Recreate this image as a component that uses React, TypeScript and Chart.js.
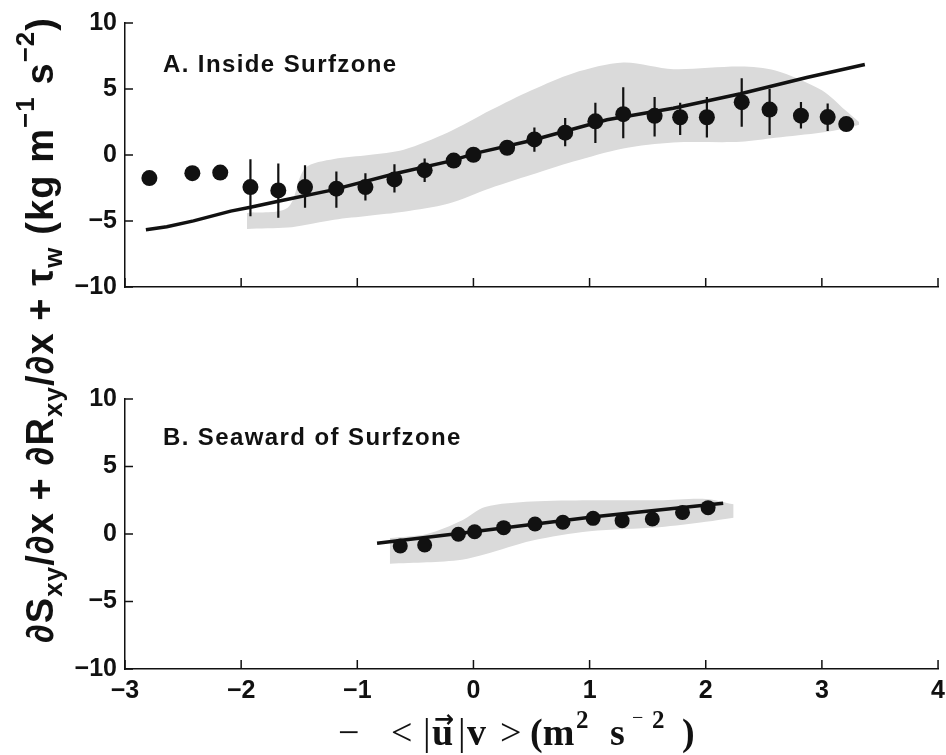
import React, { useEffect, useRef } from 'react';
import { Chart, registerables } from 'chart.js';

Chart.register(...registerables);

// ---- axis ticks ----
const xTicks = [-3, -2, -1, 0, 1, 2, 3, 4];
const yTicks = [-10, -5, 0, 5, 10];

// ---- Panel A: Inside Surfzone ----
const insideX = [-2.79, -2.42, -2.18, -1.92, -1.68, -1.45, -1.18, -0.93, -0.68, -0.42, -0.17, 0.0, 0.29, 0.525, 0.79, 1.05, 1.29, 1.56, 1.78, 2.01, 2.31, 2.55, 2.82, 3.05, 3.21];
const insideY = [-1.75, -1.38, -1.33, -2.43, -2.68, -2.43, -2.55, -2.43, -1.85, -1.15, -0.42, 0.02, 0.55, 1.18, 1.69, 2.55, 3.09, 2.97, 2.86, 2.86, 4.0, 3.44, 2.98, 2.87, 2.34];
const insideHi = [null, null, null, -0.32, -0.64, -0.77, -1.25, -1.38, -0.71, -0.27, null, null, null, 2.08, 2.8, 3.95, 5.13, 4.39, 3.95, 4.39, 5.82, 5.01, 4.02, 3.9, null];
const insideLo = [null, null, null, -4.64, -4.75, -4.0, -4.0, -3.44, -2.85, -2.04, null, null, null, 0.24, 0.66, 0.9, 1.27, 1.4, 1.52, 1.33, 2.14, 1.52, 2.01, 1.81, null];
const fitInX = [-2.82, -2.64, -2.41, -2.09, -1.92, -1.66, -1.23, -0.66, -0.23, 0.06, 0.49, 1.15, 1.72, 2.3, 2.87, 3.37];
const fitInY = [-5.67, -5.43, -4.99, -4.25, -3.96, -3.46, -2.68, -1.38, -0.52, 0.22, 1.08, 2.67, 3.54, 4.64, 5.87, 6.85];
const cloudInX = [-1.95, -1.6, -1.45, -1.2, -0.9, -0.6, -0.22, 0.15, 0.5, 0.86, 1.29, 1.72, 2.3, 2.6, 3.0, 3.2, 3.32];
const cloudInHi = [-4.4, -4.0, -1.0, -0.3, 0.0, 0.4, 1.7, 3.4, 4.9, 6.2, 7.0, 6.5, 6.7, 6.4, 4.9, 3.4, 2.5];
const cloudInLo = [-5.6, -5.5, -5.3, -4.9, -4.6, -4.3, -3.7, -2.5, -1.5, -0.5, 0.5, 0.95, 1.0, 1.3, 1.7, 2.0, 2.3];

// ---- Panel B: Seaward of Surfzone ----
const seawardX = [-0.63, -0.42, -0.13, 0.01, 0.26, 0.53, 0.77, 1.03, 1.28, 1.54, 1.8, 2.02];
const seawardY = [-0.89, -0.81, -0.02, 0.17, 0.47, 0.74, 0.87, 1.16, 0.99, 1.11, 1.6, 1.95];
const fitSeaX = [-0.83, -0.11, 1.04, 2.15];
const fitSeaY = [-0.69, 0.05, 1.28, 2.27];
const cloudSeaX = [-0.72, -0.4, -0.1, 0.1, 0.5, 1.0, 1.6, 2.0, 2.24];
const cloudSeaHi = [-0.3, 0.0, 1.0, 2.0, 2.4, 2.5, 2.5, 2.6, 2.2];
const cloudSeaLo = [-2.2, -2.1, -1.9, -1.5, -0.5, 0.2, 0.5, 0.9, 1.2];

const INK = '#111111';
const CLOUD = '#dadada';
const TICK_FONT = { family: '"Liberation Sans", Arial, sans-serif', size: 25, weight: 'bold' as const };

const fmt = (v: number | string) => {
  const n = Number(v);
  return n < 0 ? '\u2212' + Math.abs(n) : String(n);
};
const pts = (xs: number[], ys: number[]) => xs.map((x, i) => ({ x, y: ys[i] }));
const errPts = (xs: number[], lo: (number | null)[], hi: (number | null)[]) => {
  const out: { x: number; y: number | null }[] = [];
  xs.forEach((x, i) => {
    if (lo[i] == null || hi[i] == null) return;
    out.push({ x, y: lo[i] }, { x, y: hi[i] }, { x, y: null });
  });
  return out;
};

const inwardTicks = {
  id: 'inwardTicks',
  afterDatasetsDraw(chart: any) {
    const { ctx, chartArea: a, scales } = chart;
    const x = scales.x;
    const y = scales.y;
    ctx.save();
    ctx.strokeStyle = INK;
    ctx.lineWidth = 1.5;
    ctx.beginPath();
    xTicks.forEach((v) => {
      const p = x.getPixelForValue(v);
      ctx.moveTo(p, a.bottom);
      ctx.lineTo(p, a.bottom - 9);
    });
    yTicks.forEach((v) => {
      const p = y.getPixelForValue(v);
      ctx.moveTo(a.left, p);
      ctx.lineTo(a.left + 8, p);
    });
    ctx.stroke();
    ctx.restore();
  },
};

function buildConfig(opts: {
  padTop: number;
  padRight: number;
  xAxisH: number;
  showXLabels: boolean;
  dotsX: number[];
  dotsY: number[];
  dotR: number;
  lo: (number | null)[] | null;
  hi: (number | null)[] | null;
  fitX: number[];
  fitY: number[];
  cX: number[];
  cHi: number[];
  cLo: number[];
}): any {
  const datasets: any[] = [
    {
      data: pts(opts.cX, opts.cHi),
      fill: '+1',
      backgroundColor: CLOUD,
      borderWidth: 0,
      borderColor: 'rgba(0,0,0,0)',
      pointRadius: 0,
      tension: 0.3,
      order: 5,
    },
    {
      data: pts(opts.cX, opts.cLo),
      fill: false,
      borderWidth: 0,
      borderColor: 'rgba(0,0,0,0)',
      pointRadius: 0,
      tension: 0.3,
      order: 5,
    },
    {
      data: pts(opts.fitX, opts.fitY),
      borderColor: INK,
      borderWidth: 3.5,
      pointRadius: 0,
      fill: false,
      tension: 0,
      order: 1,
    },
    {
      data: pts(opts.dotsX, opts.dotsY),
      showLine: false,
      pointRadius: opts.dotR,
      pointBackgroundColor: INK,
      pointBorderWidth: 0,
      fill: false,
      order: 0,
    },
  ];
  if (opts.lo && opts.hi) {
    datasets.push({
      data: errPts(opts.dotsX, opts.lo, opts.hi),
      borderColor: INK,
      borderWidth: 2.2,
      pointRadius: 0,
      spanGaps: false,
      fill: false,
      order: 2,
    });
  }
  return {
    type: 'line',
    data: { datasets },
    options: {
      responsive: false,
      animation: false,
      events: [],
      layout: { padding: { top: opts.padTop, right: opts.padRight, left: 0, bottom: 0 } },
      plugins: { legend: { display: false }, tooltip: { enabled: false } },
      scales: {
        x: {
          type: 'linear',
          min: -3,
          max: 4,
          afterBuildTicks: (s: any) => {
            s.ticks = xTicks.map((v) => ({ value: v }));
          },
          ticks: {
            display: opts.showXLabels,
            callback: fmt,
            padding: 7,
            font: TICK_FONT,
            color: INK,
            maxRotation: 0,
            autoSkip: false,
          },
          grid: { display: false, drawTicks: false },
          border: { display: true, color: INK, width: 1.5 },
          afterFit: (s: any) => {
            s.height = opts.xAxisH;
          },
        },
        y: {
          type: 'linear',
          min: -10,
          max: 10,
          afterBuildTicks: (s: any) => {
            s.ticks = yTicks.map((v) => ({ value: v }));
          },
          ticks: {
            callback: fmt,
            padding: 8,
            font: TICK_FONT,
            color: INK,
            autoSkip: false,
          },
          grid: { display: false, drawTicks: false },
          border: { display: true, color: INK, width: 1.5 },
          afterFit: (s: any) => {
            s.width = 125;
          },
        },
      },
    },
    plugins: [inwardTicks],
  };
}

function PanelChart({ top, width, height, config }: { top: number; width: number; height: number; config: () => any }) {
  const ref = useRef<HTMLCanvasElement>(null);
  useEffect(() => {
    const chart = new Chart(ref.current as HTMLCanvasElement, config());
    return () => chart.destroy();
  }, []);
  return (
    <canvas
      ref={ref}
      width={width}
      height={height}
      style={{ position: 'absolute', left: 0, top, width, height }}
    />
  );
}

const labelFont: React.CSSProperties = {
  position: 'absolute',
  fontFamily: '"Liberation Sans", Arial, sans-serif',
  fontWeight: 'bold',
  fontSize: 24,
  lineHeight: '24px',
  letterSpacing: '1.4px',
  color: INK,
  whiteSpace: 'nowrap',
};

const subS: React.CSSProperties = { fontSize: '0.68em', verticalAlign: '-0.35em', lineHeight: 0 };
const supS: React.CSSProperties = { fontSize: '0.68em', verticalAlign: '0.75em', lineHeight: 0 };

// x-axis title pieces (math-style label), placed glyph group by glyph group
const serif = '"Liberation Serif", "DejaVu Serif", serif';
function Piece({ left, top, size, weight, children, family }: any) {
  return (
    <span
      style={{
        position: 'absolute',
        left,
        top,
        fontFamily: family || serif,
        fontWeight: weight,
        fontSize: size,
        lineHeight: size + 'px',
        color: INK,
        whiteSpace: 'nowrap',
      }}
    >
      {children}
    </span>
  );
}

export default function App() {
  return (
    <div style={{ position: 'absolute', left: 0, top: 0, width: 946, height: 755, background: '#fff', overflow: 'hidden' }}>
      <PanelChart
        top={0}
        width={946}
        height={310}
        config={() =>
          buildConfig({
            padTop: 21,
            padRight: 8,
            xAxisH: 18,
            showXLabels: false,
            dotsX: insideX,
            dotsY: insideY,
            dotR: 8,
            lo: insideLo,
            hi: insideHi,
            fitX: fitInX,
            fitY: fitInY,
            cX: cloudInX,
            cHi: cloudInHi,
            cLo: cloudInLo,
          })
        }
      />
      <PanelChart
        top={310}
        width={952}
        height={445}
        config={() =>
          buildConfig({
            padTop: 89,
            padRight: 0,
            xAxisH: 86,
            showXLabels: true,
            dotsX: seawardX,
            dotsY: seawardY,
            dotR: 7.5,
            lo: null,
            hi: null,
            fitX: fitSeaX,
            fitY: fitSeaY,
            cX: cloudSeaX,
            cHi: cloudSeaHi,
            cLo: cloudSeaLo,
          })
        }
      />
      <div style={{ ...labelFont, left: 163, top: 52 }}>A. Inside Surfzone</div>
      <div style={{ ...labelFont, left: 163, top: 425 }}>B. Seaward of Surfzone</div>
      <div
        style={{
          position: 'absolute',
          left: 40 - 340,
          top: 330 - 25,
          width: 680,
          height: 50,
          lineHeight: '50px',
          textAlign: 'center',
          transform: 'rotate(-90deg)',
          fontFamily: '"Liberation Sans", Arial, sans-serif',
          fontWeight: 'bold',
          fontSize: 38,
          letterSpacing: '1.1px',
          color: INK,
          whiteSpace: 'nowrap',
        }}
      >
        ∂S<span style={subS}>xy</span>/∂x + ∂R<span style={subS}>xy</span>/∂x + τ<span style={subS}>w</span> (kg m
        <span style={supS}>−1</span> s<span style={supS}>−2</span>)
      </div>
      {/* x-axis title:  − < |u⃗|v > (m² s⁻²) */}
      <Piece left={338} top={713} size={38} weight="normal">−</Piece>
      <Piece left={391} top={713} size={38} weight="normal">&lt;</Piece>
      <Piece left={423} top={713} size={38} weight="normal">|</Piece>
      <Piece left={432} top={713} size={38} weight="bold">u</Piece>
      <Piece left={434} top={707} size={24} weight="bold" family='"DejaVu Sans", sans-serif'>→</Piece>
      <Piece left={458} top={713} size={38} weight="normal">|</Piece>
      <Piece left={467} top={713} size={38} weight="bold">v</Piece>
      <Piece left={500} top={713} size={38} weight="normal">&gt;</Piece>
      <Piece left={530} top={713} size={38} weight="bold">(m</Piece>
      <Piece left={576} top={707} size={25} weight="bold">2</Piece>
      <Piece left={610} top={713} size={38} weight="bold">s</Piece>
      <Piece left={632} top={707} size={20} weight="normal">−</Piece>
      <Piece left={652} top={707} size={25} weight="bold">2</Piece>
      <Piece left={682} top={713} size={38} weight="bold">)</Piece>
    </div>
  );
}
